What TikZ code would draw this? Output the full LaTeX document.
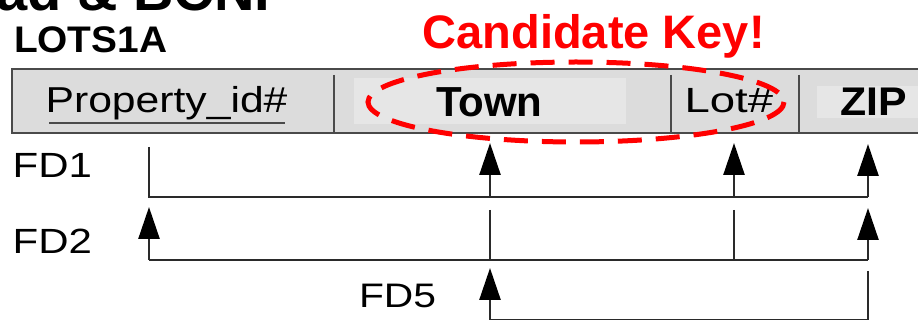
\documentclass[tikz,border=0pt]{standalone}
\usepackage{fontspec}
\setmainfont{Liberation Sans}
\usepackage{graphicx}
\usetikzlibrary{arrows.meta}
\definecolor{boxfill}{HTML}{DCDCDC}
\definecolor{patchfill}{HTML}{E6E6E6}
\definecolor{edgegray}{HTML}{4A4A4A}
\definecolor{fdgray}{HTML}{2A2A2A}
\definecolor{keyred}{HTML}{FF0000}
\newcommand{\fs}[1]{\fontsize{#1}{#1}\selectfont}
\tikzset{
  txt/.style={inner sep=0pt, outer sep=0pt, anchor=base west},
  fdline/.style={line width=2.6pt, draw=fdgray},
  fdarrow/.style={fdline, -{Triangle[length=32pt,width=21pt,color=black]}},
  cell/.style={line width=2pt, draw=edgegray},
}
\begin{document}
\begin{tikzpicture}[x=1pt,y=-1pt]
\useasboundingbox (0,0) rectangle (918,320);
\clip (0,0) rectangle (918,320);
% cropped slide title
\node[inner sep=0pt, anchor=base east] (title) at (289,11) {\fs{56}\bfseries ad \& BCNF};
% relation name
\node[txt] (rel) at (14,53) {\scalebox{1.05}[1]{\fs{37}\bfseries LOTS1A}};
% relation box
\path[fill=boxfill, cell] (12,69) rectangle (935,133);
\fill[patchfill] (354,78) rectangle (626,124);
\fill[patchfill] (817,86) rectangle (918,118);
\draw[cell] (334,75) -- (334,133);
\draw[cell] (671,75) -- (671,133);
\draw[cell] (799,75) -- (799,133);
% attribute names
\node[txt] (prop) at (45.6,113) {\scalebox{1.185}[1]{\fs{36}Property\_id\#}};
\draw[line width=2pt, draw=edgegray] (49,123) -- (285,123);
\node[txt] (town) at (436,117) {\fs{42}\bfseries Town};
\node[txt] (lot) at (684.5,113) {\scalebox{1.3}[1]{\fs{35}Lot\#}};
\node[txt] (zip) at (840,116) {\scalebox{1.07}[1]{\fs{40}\bfseries ZIP}};
% candidate key
\node[txt, text=keyred] (ck) at (422.6,49) {\fs{47}\bfseries Candidate Key!};
\draw[keyred, line width=5pt, dash pattern=on 24pt off 14pt] (576,102) ellipse [x radius=208, y radius=40];
% FD labels
\node[txt] (fd1) at (12.6,178) {\scalebox{1.2}[1]{\fs{35}FD1}};
\node[txt] (fd2) at (12.6,254) {\scalebox{1.2}[1]{\fs{35}FD2}};
\node[txt] (fd5) at (359,307) {\scalebox{1.2}[1]{\fs{34}FD5}};
% FD1
\coordinate (a1) at (149,147);
\coordinate (p1) at (149,197);
\coordinate (t1) at (490,197);
\coordinate (l1) at (734,197);
\coordinate (z1) at (868,197);
\coordinate (t1h) at (490,143);
\coordinate (l1h) at (734,143);
\coordinate (z1h) at (868,144);
\draw[fdline, line cap=butt] (a1) -- (p1) -- (z1);
\draw[fdarrow] (t1) -- (t1h);
\draw[fdarrow] (l1) -- (l1h);
\draw[fdarrow] (z1) -- (z1h);
% FD2
\coordinate (p2) at (149,260);
\coordinate (t2) at (490,260);
\coordinate (l2) at (734,260);
\coordinate (z2) at (868,260);
\coordinate (p2h) at (149,207);
\coordinate (t2a) at (490,210);
\coordinate (l2a) at (734,210);
\coordinate (z2h) at (868,208);
\draw[fdline] (p2) -- (z2);
\draw[fdarrow] (p2) -- (p2h);
\draw[fdline] (t2a) -- (t2);
\draw[fdline] (l2a) -- (l2);
\draw[fdarrow] (z2) -- (z2h);
% FD5
\coordinate (t5) at (490,320);
\coordinate (z5) at (868,320);
\coordinate (t5h) at (490,268);
\coordinate (z5a) at (868,271);
\draw[fdline] (t5) -- (z5);
\draw[fdarrow] (t5) -- (t5h);
\draw[fdline] (z5a) -- (z5);
\end{tikzpicture}
\end{document}
